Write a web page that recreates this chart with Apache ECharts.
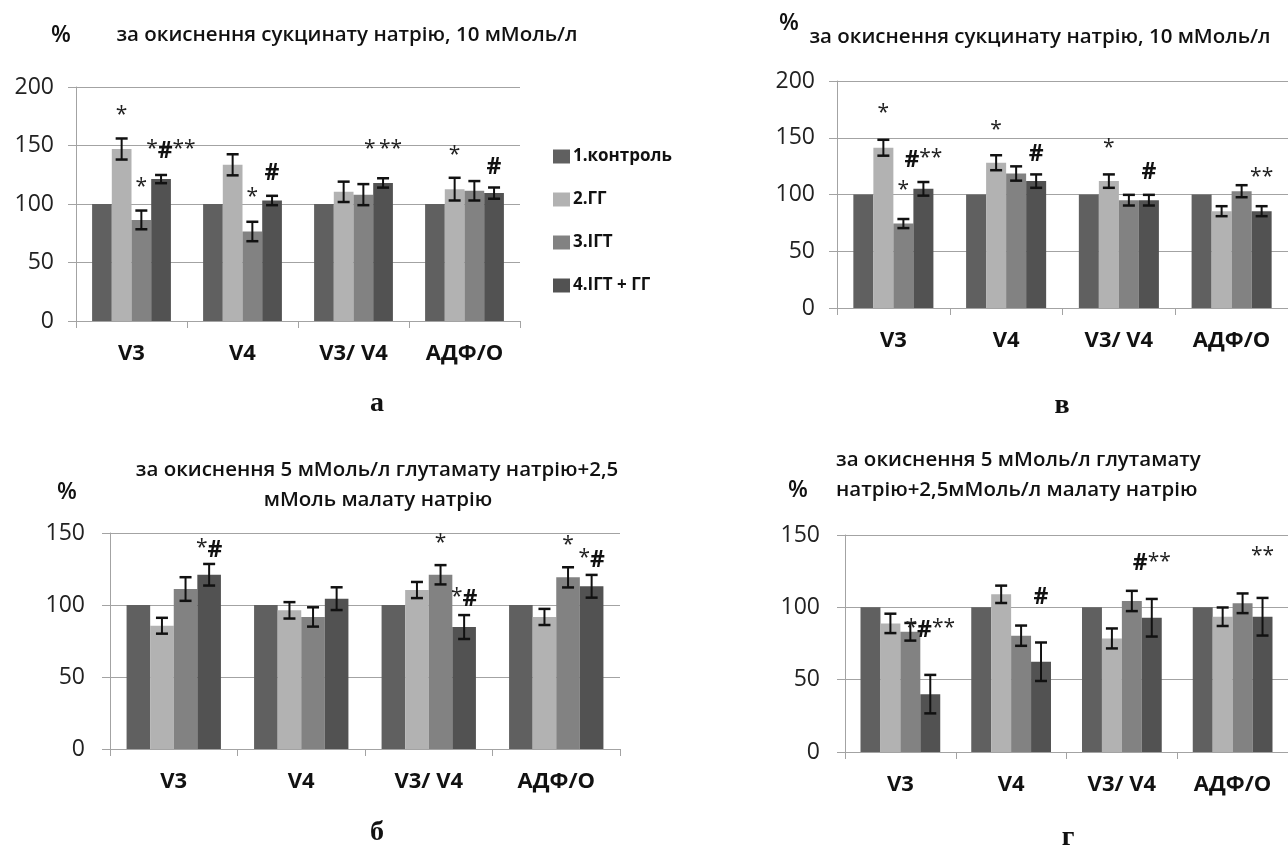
<!DOCTYPE html>
<html>
<head>
<meta charset="utf-8">
<script src="https://cdn.jsdelivr.net/npm/echarts@6/dist/echarts.min.js"></script>
<style>
    html, body { margin: 0; padding: 0; background: #fff; }
    #chart { width: 1288px; height: 848px; }
</style>
</head>
<body>
<div id="chart"></div>
<script>
    const categories = ['V3', 'V4', 'V3/ V4', 'АДФ/О'];
    const groupNames = ['1.контроль', '2.ГГ', '3.ІГТ', '4.ІГТ + ГГ'];
    const colors = ['#606060', '#b2b2b2', '#828282', '#525252'];

    // panel а: succinate
    const aValues = [
        [100, 100, 100, 100],
        [147, 133.5, 110.4, 112.7],
        [86.4, 76.5, 108, 111.3],
        [121.3, 103, 118, 109.3],
    ];
    const aErrors = [
        [0, 0, 0, 0],
        [9, 9, 8.7, 9.7],
        [8, 8.3, 9, 8.3],
        [3.5, 4, 4, 4.8],
    ];
    // [category, bar slot, value, text]
    const aMarks = [
        [0, 1, 174, '*'], [0, 2, 113, '*'], [0, 3.5, 145, '*#**'],
        [1, 2, 104, '*'], [1, 3, 126, '#'],
        [2, 3, 145, '* **'],
        [3, 1, 140, '*'], [3, 3, 131, '#'],
    ];

    // panel в: succinate
    const vValues = [
        [100, 100, 100, 100],
        [141.2, 128, 111.8, 85.3],
        [74.4, 118.5, 95, 102.9],
        [105, 111.8, 95, 85.3],
    ];
    const vErrors = [
        [0, 0, 0, 0],
        [7, 6.6, 5.9, 4.4],
        [4, 6.3, 4.7, 5.3],
        [6, 5.9, 4.7, 4.4],
    ];
    const vMarks = [
        [0, 1, 170, '*'], [0, 2, 102, '*'], [0, 3, 130, '#**'],
        [1, 1, 155, '*'], [1, 3, 135, '#'],
        [2, 1, 139, '*'], [2, 3, 119, '#'],
        [3, 3, 114, '**'],
    ];

    // panel б: glutamate + malate
    const bValues = [
        [100, 100, 100, 100],
        [85.6, 96.3, 110.4, 91.7],
        [111.1, 91.7, 121, 119.2],
        [121, 104.4, 84.7, 113],
    ];
    const bErrors = [
        [0, 0, 0, 0],
        [5.5, 5.7, 5.6, 5.6],
        [8.2, 6.7, 6.7, 7],
        [7.5, 7.9, 8.3, 7.9],
    ];
    const bMarks = [
        [0, 3, 138, '*#'],
        [2, 2, 142, '*'], [2, 3, 104, '*#'],
        [3, 2, 140, '*'], [3, 3, 131, '*#'],
    ];

    // panel г: glutamate + malate
    const gValues = [
        [100, 100, 100, 100],
        [88.9, 109, 78.5, 93.5],
        [83.1, 80.4, 104.4, 102.8],
        [40, 62.4, 92.8, 93.5],
    ];
    const gErrors = [
        [0, 0, 0, 0],
        [6.7, 6, 6.9, 6.4],
        [6.1, 7, 7, 6.8],
        [13.3, 13.3, 13, 13],
    ];
    const gMarks = [
        [0, 3, 84, '*#**'],
        [1, 3, 107, '#'],
        [2, 3, 130, '#**'],
        [3, 3, 134, '**'],
    ];

    const FONT = '"Open Sans", "Noto Sans", sans-serif';
    const SERIF = '"Liberation Serif", "Times New Roman", serif';
    const AXIS_GREY = '#a3a3a3';

    const panels = [
        { grid: { left: 76, top: 87, width: 444, height: 234 }, max: 200, gap: 0.29, values: aValues, errors: aErrors, marks: aMarks, yMargin: 22 },
        { grid: { left: 837, top: 81, width: 452, height: 227 }, max: 200, gap: 0.29, values: vValues, errors: vErrors, marks: vMarks, yMargin: 22 },
        { grid: { left: 110, top: 533, width: 510, height: 216 }, max: 150, gap: 0.26, values: bValues, errors: bErrors, marks: bMarks, yMargin: 25 },
        { grid: { left: 845, top: 535, width: 455, height: 217 }, max: 150, gap: 0.28, values: gValues, errors: gErrors, marks: gMarks, yMargin: 25 },
    ];

    const markText = (t) => t.replace(/#/g, '{h|#}').replace(/\*/g, '{s|*}');

    const series = [];
    panels.forEach((p, gi) => {
        p.values.forEach((vals, s) => {
            series.push({
                type: 'bar',
                name: groupNames[s],
                xAxisIndex: gi,
                yAxisIndex: gi,
                data: vals,
                barGap: '0%',
                barCategoryGap: (p.gap * 100) + '%',
                itemStyle: { color: colors[s] },
                silent: true,
            });
        });

        // error bars, drawn at the centre of each bar in the group
        const errData = [];
        p.errors.forEach((errs, s) => {
            errs.forEach((e, c) => {
                if (e > 0) errData.push([c, s, p.values[s][c] - e, p.values[s][c] + e]);
            });
        });
        series.push({
            type: 'custom',
            xAxisIndex: gi,
            yAxisIndex: gi,
            data: errData,
            encode: { x: 0, y: [2, 3] },
            z: 5,
            silent: true,
            renderItem: (params, api) => {
                const c = api.value(0), s = api.value(1);
                const lo = api.coord([c, api.value(2)]);
                const hi = api.coord([c, api.value(3)]);
                const band = api.size([1, 0])[0];
                const bw = band * (1 - p.gap) / 4;
                const x = lo[0] + (s - 1.5) * bw;
                const cap = 6;
                const st = { stroke: '#111', lineWidth: 2.5 };
                return {
                    type: 'group',
                    children: [
                        { type: 'line', shape: { x1: x, y1: hi[1], x2: x, y2: lo[1] }, style: { stroke: '#111', lineWidth: 2 } },
                        { type: 'line', shape: { x1: x - cap, y1: hi[1], x2: x + cap, y2: hi[1] }, style: st },
                        { type: 'line', shape: { x1: x - cap, y1: lo[1], x2: x + cap, y2: lo[1] }, style: st },
                    ],
                };
            },
        });

        // significance marks (* and #)
        series.push({
            type: 'custom',
            xAxisIndex: gi,
            yAxisIndex: gi,
            data: p.marks.map(m => [m[0], m[1], m[2]]),
            encode: { x: 0, y: 2 },
            z: 6,
            silent: true,
            renderItem: (params, api) => {
                const c = api.value(0), s = api.value(1);
                const pt = api.coord([c, api.value(2)]);
                const band = api.size([1, 0])[0];
                const bw = band * (1 - p.gap) / 4;
                return {
                    type: 'text',
                    x: pt[0] + (s - 1.5) * bw,
                    y: pt[1],
                    style: {
                        text: markText(p.marks[params.dataIndex][3]),
                        align: 'center',
                        verticalAlign: 'middle',
                        fill: '#111',
                        rich: {
                            s: { fontFamily: FONT, fontSize: 21, fill: '#222', padding: [0, 0, 4, 0] },
                            h: { fontFamily: FONT, fontSize: 23, fontWeight: 'bold', fill: '#111' },
                        },
                    },
                };
            },
        });
    });

    const textEl = (x, y, text, size, weight, family, align) => ({
        type: 'text',
        x: x,
        y: y,
        style: {
            text: text,
            font: `${weight} ${size}px ${family}`,
            fill: '#111',
            textAlign: align || 'center',
            textVerticalAlign: 'middle',
        },
    });

    const option = {
        animation: false,
        grid: panels.map(p => p.grid),
        xAxis: panels.map((p, gi) => ({
            type: 'category',
            gridIndex: gi,
            data: categories,
            axisLine: { lineStyle: { color: AXIS_GREY, width: 1 } },
            axisTick: { show: true, length: 7, lineStyle: { color: AXIS_GREY } },
            axisLabel: { fontFamily: FONT, fontSize: 22, fontWeight: 'bold', color: '#111', margin: 22 },
            splitLine: { show: false },
        })),
        yAxis: panels.map((p, gi) => ({
            type: 'value',
            gridIndex: gi,
            min: 0,
            max: p.max,
            interval: 50,
            axisLine: { show: true, lineStyle: { color: AXIS_GREY, width: 1 } },
            axisTick: { show: true, length: 8, inside: false, lineStyle: { color: AXIS_GREY } },
            axisLabel: { fontFamily: FONT, fontSize: 23, color: '#222', margin: p.yMargin },
            splitLine: { show: true, lineStyle: { color: AXIS_GREY, width: 1 } },
        })),
        legend: {
            left: 548,
            top: 143,
            orient: 'vertical',
            icon: 'rect',
            itemWidth: 17,
            itemHeight: 14,
            itemGap: 26,
            selectedMode: false,
            data: groupNames,
            textStyle: { fontFamily: FONT, fontSize: 17, fontWeight: 'bold', color: '#111', padding: [0, 0, 0, -2] },
        },
        graphic: [
            textEl(61, 35, '%', 23, 600, FONT),
            textEl(347, 35, 'за окиснення сукцинату натрію, 10 мМоль/л', 20.5, 600, FONT),
            textEl(789, 23, '%', 23, 600, FONT),
            textEl(1040, 37, 'за окиснення сукцинату натрію, 10 мМоль/л', 20.5, 600, FONT),
            textEl(67, 492, '%', 23, 600, FONT),
            textEl(377, 470, 'за окиснення 5 мМоль/л глутамату натрію+2,5', 20.5, 600, FONT),
            textEl(378, 500, 'мМоль малату натрію', 20.5, 600, FONT),
            textEl(798, 490, '%', 23, 600, FONT),
            textEl(836, 460, 'за окиснення 5 мМоль/л глутамату', 20.5, 600, FONT, 'left'),
            textEl(836, 490, 'натрію+2,5мМоль/л малату натрію', 20.5, 600, FONT, 'left'),
            textEl(377, 404, 'а', 28, 'bold', SERIF),
            textEl(1062, 406, 'в', 28, 'bold', SERIF),
            textEl(377, 833, 'б', 28, 'bold', SERIF),
            textEl(1068, 838, 'г', 28, 'bold', SERIF),
        ],
        series: series,
    };

    const chart = echarts.init(document.getElementById('chart'));
    chart.setOption(option);
    window.addEventListener('resize', () => chart.resize());
</script>
</body>
</html>
